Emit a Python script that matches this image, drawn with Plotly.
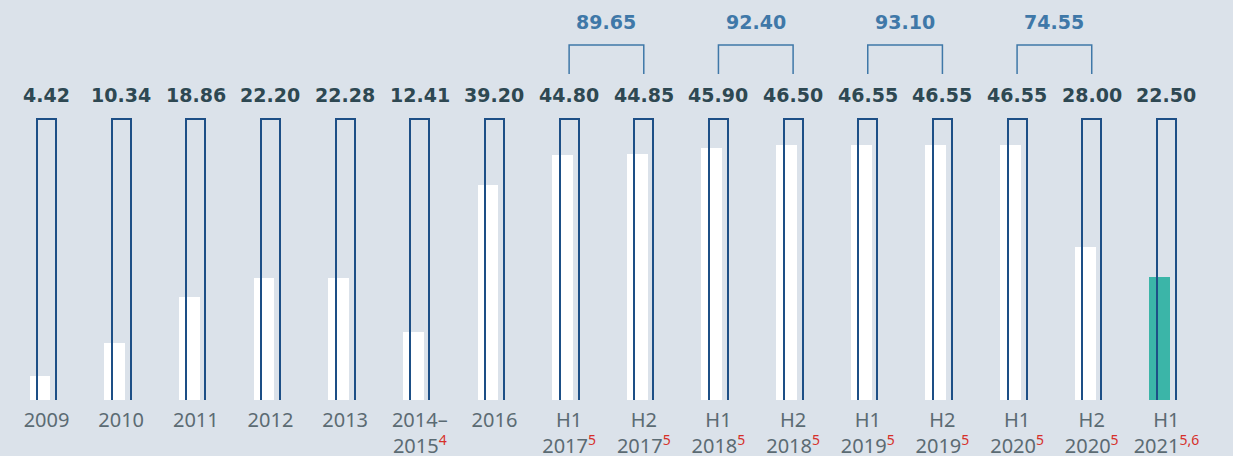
import plotly.graph_objects as go

# ---- data ----
periods = ["2009", "2010", "2011", "2012", "2013", "2014–<br>2015", "2016",
           "H1<br>2017", "H2<br>2017", "H1<br>2018", "H2<br>2018",
           "H1<br>2019", "H2<br>2019", "H1<br>2020", "H2<br>2020", "H1<br>2021"]
footnotes = ["", "", "", "", "", "4", "", "5", "5", "5", "5", "5", "5", "5", "5", "5,6"]
values = [4.42, 10.34, 18.86, 22.20, 22.28, 12.41, 39.20, 44.80, 44.85,
          45.90, 46.50, 46.55, 46.55, 46.55, 28.00, 22.50]
# pairs of half-years summed into annual totals
year_pairs = [(7, 8), (9, 10), (11, 12), (13, 14)]
capacity = 51.3  # height of the outlined frame

# ---- styling ----
BG = "#dbe2ea"
FRAME = "#1d4f86"
WHITE = "#ffffff"
TEAL = "#3bb5a8"
VAL_COLOR = "#2e4852"
SUM_COLOR = "#3f78a8"
TICK_COLOR = "#5b6b73"
NOTE_COLOR = "#d6302a"
PX_PER_UNIT = 5.48
ZERO_PX = 400
H = 456

idx = list(range(len(values)))
ticktext = [p + (f'<sup><span style="color:{NOTE_COLOR}">{n}</span></sup>' if n else "")
            for p, n in zip(periods, footnotes)]
fill_colors = [WHITE] * (len(values) - 1) + [TEAL]

fig = go.Figure()
fig.add_trace(go.Bar(
    x=idx, y=values, width=0.28, offset=-0.14 - 0.087,
    marker=dict(color=fill_colors, line=dict(width=0)),
    hoverinfo="skip", showlegend=False))
fig.add_trace(go.Bar(
    x=idx, y=[capacity + 2] * len(values), base=-2, width=0.255, offset=-0.1275,
    marker=dict(color="rgba(0,0,0,0)", line=dict(color=FRAME, width=2)),
    hoverinfo="skip", showlegend=False))

annotations = []
for i, v in enumerate(values):
    annotations.append(dict(
        x=i, y=capacity, xref="x", yref="y", text=f"{v:.2f}", showarrow=False,
        yanchor="middle", yshift=119 - 95,
        font=dict(family="DejaVu Sans", size=19, color=VAL_COLOR, weight="bold")))

shapes = []
br_top_px, br_bot_px = 45, 74
y_top = (ZERO_PX - br_top_px) / PX_PER_UNIT
y_bot = (ZERO_PX - br_bot_px) / PX_PER_UNIT
for a, b in year_pairs:
    total = values[a] + values[b]
    shapes.append(dict(type="path", xref="x", yref="y",
                       path=f"M {a} {y_bot} L {a} {y_top} L {b} {y_top} L {b} {y_bot}",
                       line=dict(color=SUM_COLOR, width=1.5)))
    annotations.append(dict(
        x=(a + b) / 2, y=capacity, xref="x", yref="y", text=f"{total:.2f}",
        showarrow=False, yanchor="middle", yshift=119 - 22,
        font=dict(family="DejaVu Sans", size=19, color=SUM_COLOR, weight="bold")))

x0 = -46.5 / 74.66
x1 = (1233 - 46.5) / 74.66
fig.update_layout(
    width=1233, height=H, paper_bgcolor=BG, plot_bgcolor=BG,
    margin=dict(l=0, r=0, t=0, b=H - ZERO_PX, autoexpand=False),
    barmode="overlay", bargap=0,
    annotations=annotations, shapes=shapes,
    xaxis=dict(range=[x0, x1], tickvals=idx, ticktext=ticktext, showgrid=False,
               zeroline=False, showline=False, ticks="", ticklabelstandoff=6,
               automargin=False,
               tickfont=dict(family="Noto Sans", size=20, color=TICK_COLOR)),
    yaxis=dict(range=[0, ZERO_PX / PX_PER_UNIT], visible=False, fixedrange=True,
               automargin=False),
)
fig.write_html("out.html", config={"displayModeBar": False})
with open("out.html", encoding="utf-8") as f:
    html = f.read()
html = html.replace("<body>", '<body style="margin:0;overflow:hidden">', 1)
with open("out.html", "w", encoding="utf-8") as f:
    f.write(html)
